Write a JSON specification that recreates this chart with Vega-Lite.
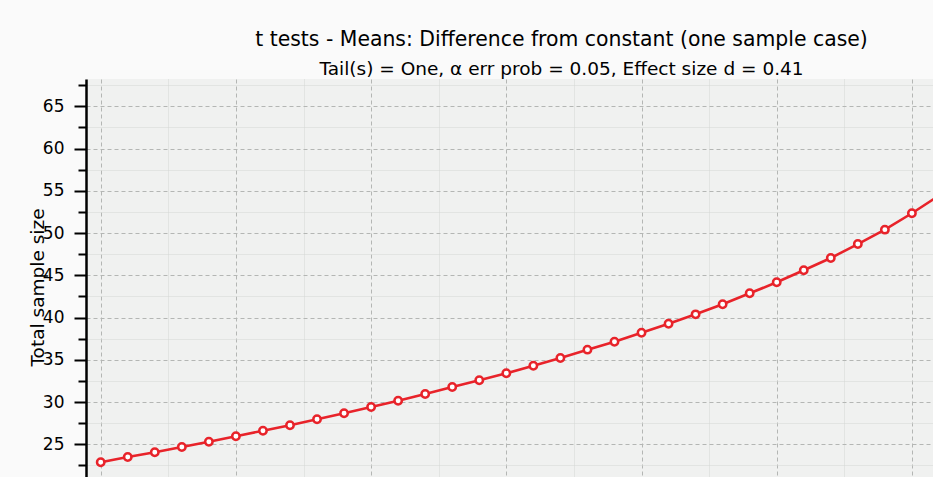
{
  "$schema": "https://vega.github.io/schema/vega-lite/v6.json",
  "autosize": {"type": "none"},
  "padding": {"left": 86, "top": 79, "right": 0, "bottom": 0},
  "width": 847,
  "height": 398,
  "background": "#fafafa",
  "title": {
    "text": "t tests - Means: Difference from constant (one sample case)",
    "subtitle": "Tail(s) = One, α err prob = 0.05, Effect size d = 0.41",
    "anchor": "middle",
    "frame": "group",
    "dx": 52,
    "offset": 1,
    "font": "DejaVu Sans",
    "fontSize": 20.4,
    "fontWeight": "normal",
    "color": "#000000",
    "subtitleFont": "DejaVu Sans",
    "subtitleFontSize": 18.5,
    "subtitleColor": "#000000",
    "subtitlePadding": 9
  },
  "data": {
    "values": [
      {"power": 0.60, "n": 22.87},
      {"power": 0.61, "n": 23.50},
      {"power": 0.62, "n": 24.05},
      {"power": 0.63, "n": 24.68},
      {"power": 0.64, "n": 25.31},
      {"power": 0.65, "n": 25.95},
      {"power": 0.66, "n": 26.61},
      {"power": 0.67, "n": 27.25},
      {"power": 0.68, "n": 27.96},
      {"power": 0.69, "n": 28.67},
      {"power": 0.70, "n": 29.41},
      {"power": 0.71, "n": 30.16},
      {"power": 0.72, "n": 30.95},
      {"power": 0.73, "n": 31.78},
      {"power": 0.74, "n": 32.57},
      {"power": 0.75, "n": 33.40},
      {"power": 0.76, "n": 34.30},
      {"power": 0.77, "n": 35.21},
      {"power": 0.78, "n": 36.20},
      {"power": 0.79, "n": 37.14},
      {"power": 0.80, "n": 38.21},
      {"power": 0.81, "n": 39.27},
      {"power": 0.82, "n": 40.38},
      {"power": 0.83, "n": 41.57},
      {"power": 0.84, "n": 42.87},
      {"power": 0.85, "n": 44.17},
      {"power": 0.86, "n": 45.59},
      {"power": 0.87, "n": 47.05},
      {"power": 0.88, "n": 48.70},
      {"power": 0.89, "n": 50.40},
      {"power": 0.90, "n": 52.34},
      {"power": 0.91, "n": 54.44}
    ]
  },
  "config": {
    "view": {"fill": "#f0f1f0", "stroke": null}
  },
  "layer": [
    {
      "mark": {"type": "line", "color": "#e8232a", "strokeWidth": 2.6, "clip": true},
      "encoding": {
        "x": {
          "field": "power", "type": "quantitative",
          "scale": {"domain": [0.59456, 0.9078], "nice": false, "zero": false},
          "axis": {
            "orient": "bottom", "title": null, "labels": false, "ticks": false, "domain": false,
            "values": [0.625, 0.675, 0.725, 0.775, 0.825, 0.875],
            "grid": true, "gridColor": "#d4d6d4", "gridDash": [1, 1], "gridWidth": 1
          }
        },
        "y": {
          "field": "n", "type": "quantitative",
          "scale": {"domain": [21.13, 68.23], "nice": false, "zero": false},
          "axis": {
            "orient": "left", "title": null, "labels": false, "domain": false,
            "values": [22.5, 27.5, 32.5, 37.5, 42.5, 47.5, 52.5, 57.5, 62.5, 67.5],
            "ticks": true, "tickSize": 8, "tickWidth": 2, "tickColor": "#000000",
            "grid": true, "gridColor": "#d4d6d4", "gridDash": [1, 1], "gridWidth": 1
          }
        }
      }
    },
    {
      "mark": {"type": "point", "shape": "circle", "filled": true, "fill": "#ffffff", "stroke": "#e8232a", "strokeWidth": 2.5, "size": 55, "opacity": 1, "clip": true},
      "encoding": {
        "x": {
          "field": "power", "type": "quantitative",
          "axis": {
            "orient": "bottom", "title": null, "labels": false, "ticks": false, "domain": false,
            "values": [0.6, 0.65, 0.7, 0.75, 0.8, 0.85, 0.9],
            "grid": true, "gridColor": "#b4b6b4", "gridDash": [4, 3], "gridWidth": 1
          }
        },
        "y": {
          "field": "n", "type": "quantitative",
          "axis": {
            "orient": "left",
            "title": "Total sample size",
            "titleFont": "DejaVu Sans", "titleFontSize": 18.5, "titleFontWeight": "normal", "titleColor": "#000000",
            "titleAngle": -90, "titleX": -43, "titleY": 208, "titleAlign": "center", "titleBaseline": "alphabetic",
            "values": [25, 30, 35, 40, 45, 50, 55, 60, 65],
            "labelFont": "DejaVu Sans", "labelFontSize": 17, "labelColor": "#000000", "labelPadding": 10,
            "ticks": true, "tickSize": 12, "tickWidth": 2, "tickColor": "#000000",
            "domain": true, "domainColor": "#000000", "domainWidth": 2.5,
            "grid": true, "gridColor": "#b4b6b4", "gridDash": [4, 3], "gridWidth": 1
          }
        }
      }
    }
  ],
  "resolve": {"axis": {"x": "independent", "y": "independent"}}
}
